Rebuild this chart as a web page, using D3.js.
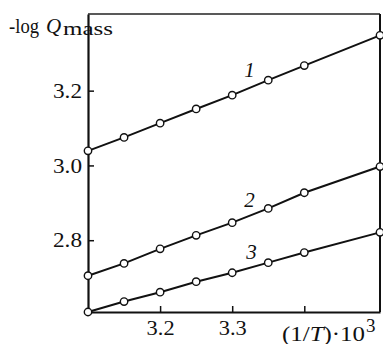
<!DOCTYPE html>
<html>
<head>
<meta charset="utf-8">
<script src="https://cdn.jsdelivr.net/npm/d3@7"></script>
<style>
  body { margin: 0; background: #fff; }
  svg text { font-family: "Liberation Serif", "Times New Roman", serif; fill: #111; }
</style>
</head>
<body>
<div id="chart"></div>
<script>
// 1/T * 10^3
var invT = [3.1, 3.15, 3.2, 3.25, 3.3, 3.35, 3.4, 3.505];
// -log Q_mass for curves 1..3
var curve1 = [3.039, 3.075, 3.113, 3.151, 3.188, 3.228, 3.267, 3.348];
var curve2 = [2.705, 2.738, 2.777, 2.813, 2.847, 2.885, 2.927, 2.997];
var curve3 = [2.608, 2.636, 2.661, 2.689, 2.713, 2.740, 2.767, 2.821];
var curveNames = ["1", "2", "3"];
var xTicks = [3.2, 3.3, 3.4];
var yTicks = [2.8, 3.0, 3.2];

var W = 383, H = 344;
var mLeft = 88, mRight = 380, mTop = 14, mBottom = 312;

var svg = d3.select("#chart")
    .append("svg")
    .attr("width", W)
    .attr("height", H);

var x = d3.scaleLinear().domain([3.1, 3.505]).range([mLeft, mRight]);
var y = d3.scaleLinear().domain([2.608, 3.405]).range([mBottom, mTop]);

var xAxis = d3.axisBottom(x)
    .tickValues(xTicks)
    .tickSizeInner(-6)
    .tickSizeOuter(0)
    .tickPadding(9)
    .tickFormat(function(d) { return d === 3.4 ? "" : d3.format(".1f")(d); });

var yAxis = d3.axisLeft(y)
    .tickValues(yTicks)
    .tickSizeInner(-6)
    .tickSizeOuter(0)
    .tickPadding(6)
    .tickFormat(d3.format(".1f"));

// frame: top and right
svg.append("line")
    .attr("x1", mLeft).attr("x2", mRight)
    .attr("y1", mTop).attr("y2", mTop)
    .attr("stroke", "#222").attr("stroke-width", 1.4);
svg.append("line")
    .attr("x1", mRight).attr("x2", mRight)
    .attr("y1", mTop).attr("y2", mBottom)
    .attr("stroke", "#111").attr("stroke-width", 2);

var gx = svg.append("g")
    .attr("transform", "translate(0," + mBottom + ")")
    .call(xAxis);
gx.select(".domain").attr("stroke", "#111").attr("stroke-width", 2);
gx.selectAll(".tick line").attr("stroke", "#111").attr("stroke-width", 1.5);
gx.selectAll(".tick text")
    .attr("font-family", null)
    .attr("font-size", null)
    .style("font-size", "20px")
    .attr("textLength", function(d) { return d === 3.4 ? null : 28; })
    .attr("lengthAdjust", "spacingAndGlyphs");

var gy = svg.append("g")
    .attr("transform", "translate(" + mLeft + ",0)")
    .call(yAxis);
gy.select(".domain").attr("stroke", "#111").attr("stroke-width", 2.2);
gy.selectAll(".tick line").attr("stroke", "#111").attr("stroke-width", 1.5);
gy.selectAll(".tick text")
    .attr("font-family", null)
    .attr("font-size", null)
    .style("font-size", "21px")
    .attr("textLength", 29)
    .attr("lengthAdjust", "spacingAndGlyphs");

// y axis title: -log Q_mass
svg.append("text")
    .attr("x", 9).attr("y", 33)
    .style("font-size", "20px")
    .attr("textLength", 30)
    .attr("lengthAdjust", "spacingAndGlyphs")
    .text("-log");
svg.append("text")
    .attr("x", 46).attr("y", 33)
    .style("font-size", "21px")
    .style("font-style", "italic")
    .text("Q");
svg.append("text")
    .attr("x", 63).attr("y", 35)
    .style("font-size", "19px")
    .attr("textLength", 50)
    .attr("lengthAdjust", "spacingAndGlyphs")
    .text("mass");

// x axis title: (1/T)·10^3
var xTitle = svg.append("text")
    .attr("x", 282)
    .attr("y", 341)
    .style("font-size", "20px")
    .attr("textLength", 83)
    .attr("lengthAdjust", "spacingAndGlyphs");
xTitle.append("tspan").text("(1/");
xTitle.append("tspan").style("font-style", "italic").text("T");
xTitle.append("tspan").text(")\u00b710");
svg.append("text")
    .attr("x", 366)
    .attr("y", 332)
    .style("font-size", "19px")
    .text("3");

// curves
var series = [curve1, curve2, curve3];
var labelOffset = [[12, -18], [12, -16], [14, -14]];

var line = d3.line()
    .x(function(d, i) { return x(invT[i]); })
    .y(function(d) { return y(d); });

series.forEach(function(vals, k) {
  var g = svg.append("g");
  g.append("path")
      .datum(vals)
      .attr("d", line)
      .attr("fill", "none")
      .attr("stroke", "#111")
      .attr("stroke-width", 2);
  g.selectAll("circle")
      .data(vals)
    .enter().append("circle")
      .attr("cx", function(d, i) { return x(invT[i]); })
      .attr("cy", function(d) { return y(d); })
      .attr("r", 3.7)
      .attr("fill", "#fff")
      .attr("stroke", "#111")
      .attr("stroke-width", 1.4);
  g.append("text")
      .attr("x", x(invT[4]) + labelOffset[k][0])
      .attr("y", y(vals[4]) + labelOffset[k][1])
      .style("font-size", "21px")
      .style("font-style", "italic")
      .text(curveNames[k]);
});
</script>
</body>
</html>
